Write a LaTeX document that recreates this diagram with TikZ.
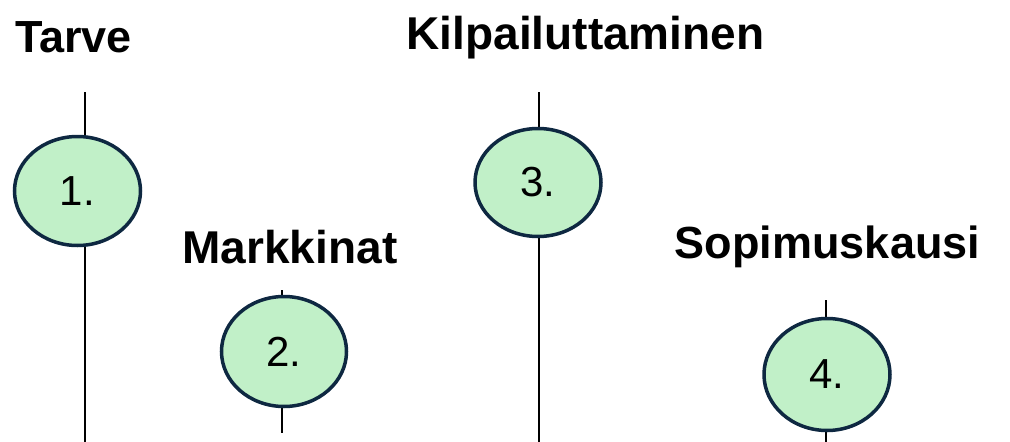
\documentclass[tikz,border=0pt]{standalone}
\usepackage{fontspec}
\setmainfont{Liberation Sans}
\usetikzlibrary{shapes.geometric}
\definecolor{phasefill}{HTML}{C1F0C8}
\definecolor{phaseedge}{HTML}{0E2841}
\tikzset{
  phase/.style={ellipse, draw=phaseedge, fill=phasefill, line width=3.5pt,
    inner sep=0pt, font=\fontsize{42}{42}\selectfont},
  stem/.style={draw=black, line width=2pt},
  heading/.style={anchor=base, inner sep=0pt, font=\fontsize{45}{45}\selectfont\bfseries}
}
\begin{document}
\begin{tikzpicture}[x=1pt, y=-1pt]
\useasboundingbox (0,0) rectangle (1010,442);

% timeline stems
\coordinate (t1) at (85,92);   \coordinate (b1) at (85,442);
\coordinate (t2) at (282,290); \coordinate (b2) at (282,433);
\coordinate (t3) at (539,92);  \coordinate (b3) at (539,442);
\coordinate (t4) at (826,300); \coordinate (b4) at (826,442);
\draw[stem] (t1) -- (b1);
\draw[stem] (t2) -- (b2);
\draw[stem] (t3) -- (b3);
\draw[stem] (t4) -- (b4);

% phase markers
\node[phase, minimum width=126pt, minimum height=109pt] (e1) at (77.5,191) {1.};
\node[phase, minimum width=125pt, minimum height=110pt] (e2) at (284,351.5) {2.};
\node[phase, minimum width=126pt, minimum height=108pt] (e3) at (538,182.5) {3.};
\node[phase, minimum width=126pt, minimum height=112pt] (e4) at (827,374.5) {4.};

% phase headings
\node[heading] (h1) at (73.5,52) {Tarve};
\node[heading, font=\fontsize{46}{46}\selectfont\bfseries] (h3) at (585.5,49) {Kilpailuttaminen};
\node[heading, font=\fontsize{46}{46}\selectfont\bfseries] (h2) at (290,263) {Markkinat};
\node[heading] (h4) at (827.5,258) {Sopimuskausi};
\end{tikzpicture}
\end{document}
